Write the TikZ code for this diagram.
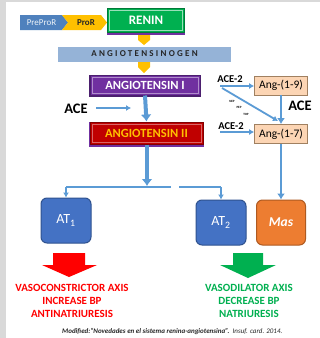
\documentclass[tikz,border=0pt]{standalone}
\usepackage{fontspec}
\setmainfont{Carlito}
\newfontfamily\spacedfont[LetterSpace=25]{Carlito}
\usetikzlibrary{arrows.meta}
\definecolor{greyside}{HTML}{D9D9D9}
\definecolor{arrowblue}{HTML}{5B9BD5}
\definecolor{prepro}{HTML}{4F81BD}
\definecolor{yel}{HTML}{FFC000}
\definecolor{reningreen}{HTML}{00B050}
\definecolor{renindark}{HTML}{007A38}
\definecolor{purp}{HTML}{7030A0}
\definecolor{purpdark}{HTML}{4B1F6E}
\definecolor{agenblue}{HTML}{95B3D7}
\definecolor{redbox}{HTML}{C00000}
\definecolor{reddark}{HTML}{800000}
\definecolor{peach}{HTML}{FCD5B4}
\definecolor{peachdark}{HTML}{A08060}
\definecolor{atblue}{HTML}{4472C4}
\definecolor{atdark}{HTML}{2F528F}
\definecolor{masor}{HTML}{ED7D31}
\definecolor{masdark}{HTML}{AE5A21}
\definecolor{brightred}{HTML}{FF0000}
\definecolor{axisgreen}{HTML}{00B050}
\begin{document}
\begin{tikzpicture}[x=1pt,y=-1pt,
  flow/.style={draw=arrowblue, line width=4pt, -{Latex[length=7pt,width=11pt]}},
  midflow/.style={draw=arrowblue, line width=2.5pt, -{Latex[length=6pt,width=8pt]}},
  slimflow/.style={draw=arrowblue, line width=1.8pt, -{Latex[length=5pt,width=6pt]}},
  branch/.style={draw=arrowblue, line width=1.5pt},
  brancharrow/.style={draw=arrowblue, line width=1.5pt, -{Latex[length=5pt,width=6pt]}},
  bevel/.style={inner sep=0pt, font=\bfseries\fontsize{12.5}{12.5}\selectfont},
  angbox/.style={draw=peachdark, fill=peach, line width=0.8pt, minimum width=53pt, minimum height=19pt, inner sep=0pt, font=\fontsize{11.5}{11.5}\selectfont},
  recbox/.style={rounded corners=6pt, line width=1pt, minimum width=50pt, minimum height=45pt, inner sep=0pt, text=white},
  label/.style={inner sep=0pt, font=\bfseries\fontsize{10.5}{10.5}\selectfont},
  bigace/.style={inner sep=0pt, font=\bfseries\fontsize{14.5}{14.5}\selectfont},
  tiny/.style={inner sep=0pt, font=\bfseries\fontsize{3.2}{3.2}\selectfont},
  axis/.style={inner sep=0pt, align=center, font=\bfseries\fontsize{11}{13}\selectfont}
]
\useasboundingbox (0,0) rectangle (320,338);
\fill[white] (0,0) rectangle (320,338);
\fill[greyside] (0,0) rectangle (6,338);
\fill[greyside] (0,0) rectangle (320,2);

% PreProR / ProR chevrons
\fill[prepro] (20,15) -- (62,15) -- (68,22.5) -- (62,30) -- (20,30) -- cycle;
\fill[yel] (62,15) -- (101,15) -- (107,22.5) -- (101,30) -- (62,30) -- (68,22.5) -- cycle;
\node[inner sep=0pt, text=white!90!prepro, font=\fontsize{9}{9}\selectfont] (preprolab) at (41.5,22.5) {PreProR};
\node[inner sep=0pt, text=black!85, font=\bfseries\fontsize{9}{9}\selectfont] (prolab) at (86,22.5) {ProR};

% RENIN
\fill[purp] (107,9) rectangle (185,35);
\node[bevel, draw=renindark, fill=reningreen, line width=1pt, minimum width=77pt, minimum height=24pt, text=white, font=\bfseries\fontsize{13}{13}\selectfont] (renin) at (146,20.5) {RENIN};
\draw[white!60!reningreen, line width=0.6pt] ([shift={(2.5pt,-2.5pt)}]renin.north west) rectangle ([shift={(-2.5pt,2.5pt)}]renin.south east);

% pointers
\fill[yel] (138,35) -- (150,35) -- (150,40) -- (144,45) -- (138,40) -- cycle;
\fill[yel] (138,62) -- (150,62) -- (150,67) -- (144,73) -- (138,67) -- cycle;

% ANGIOTENSINOGEN
\node[fill=agenblue, minimum width=173pt, minimum height=15pt, inner sep=0pt, font=\spacedfont\bfseries\fontsize{9}{9}\selectfont, text=black!85] (agen) at (144.5,54) {ANGIOTENSINOGEN};

% ANGIOTENSIN I
\fill[purpdark] (89,75) rectangle (201,97);
\node[bevel, draw=purpdark, fill=purp, line width=1pt, minimum width=110pt, minimum height=20pt, text=white] (ang1) at (145,85) {ANGIOTENSIN I};
\draw[white!45!purp, line width=0.6pt] ([shift={(2.5pt,-2.5pt)}]ang1.north west) rectangle ([shift={(-2.5pt,2.5pt)}]ang1.south east);

% ANGIOTENSIN II
\fill[purp] (89,122) rectangle (204,147);
\node[bevel, draw=reddark, fill=redbox, line width=1pt, minimum width=113pt, minimum height=22pt, text=yel] (ang2) at (146.5,133) {ANGIOTENSIN II};
\draw[white!40!redbox, line width=0.6pt] ([shift={(2.5pt,-2.5pt)}]ang2.north west) rectangle ([shift={(-2.5pt,2.5pt)}]ang2.south east);

% ACE left
\node[bigace] (aceleft) at (76,109) {ACE};
\coordinate (acel1) at (96,108);
\coordinate (acel2) at (131,108);
\draw[slimflow] (acel1) -- (acel2);
\draw[flow] (ang1.south) -- (ang2.north);

% Right branch
\node[angbox] (a19) at (281,85.5) {Ang-(1-9)};
\node[angbox] (a17) at (281,134) {Ang-(1-7)};
\node[label] (ace2a) at (230,79) {ACE-2};
\node[label] (ace2b) at (231,126) {ACE-2};
\node[bigace] (aceright) at (300,106) {ACE};
\coordinate (d1) at (220,86);
\coordinate (d2) at (222,88);
\coordinate (d3) at (278,121);
\coordinate (e1) at (220,132);
\draw[slimflow] (d1) -- (a19.west |- d1);
\draw[slimflow] (d2) -- (d3);
\draw[slimflow] (e1) -- (a17.west |- e1);
\draw[midflow] (a19.south) -- (a17.north);
\node[tiny] (nep) at (232,101) {NEP};
\node[tiny] (pep) at (239,107.5) {PEP};
\node[tiny] (top) at (246,114) {TOP};

% Receptors
\node[recbox, draw=atdark, fill=atblue] (at1) at (66,220.5) {\fontsize{14}{14}\selectfont AT\textsubscript{1}};
\node[recbox, draw=atdark, fill=atblue] (at2) at (221,222.5) {\fontsize{14}{14}\selectfont AT\textsubscript{2}};
\node[recbox, draw=masdark, fill=masor, minimum width=49pt] (mas) at (281,222.5) {\bfseries\itshape\fontsize{13.5}{13.5}\selectfont Mas};

\coordinate (j) at (147,187);
\coordinate (jl) at (66,187);
\coordinate (jg1) at (171,187);
\coordinate (jg2) at (179,187);
\coordinate (jr) at (221,187);
\draw[flow] (ang2.south -| j) -- ([yshift=1pt]j);
\draw[branch] (jl) -- (jg1);
\draw[branch] (jg2) -- (jr);
\draw[brancharrow] (jl) -- (at1.north);
\draw[brancharrow] (jr) -- (at2.north);
\draw[midflow] (a17.south) -- (mas.north);

% Block arrows
\fill[brightred] (53,253) -- (85,253) -- (85,265) -- (97,265) -- (69,277) -- (42,265) -- (53,265) -- cycle;
\fill[axisgreen] (233,253) -- (263,253) -- (263,265) -- (276,265) -- (248,278) -- (220,265) -- (233,265) -- cycle;

\node[axis, text=brightred] (redtext) at (72,301) {VASOCONSTRICTOR AXIS\\INCREASE BP\\ANTINATRIURESIS};
\node[axis, text=axisgreen] (greentext) at (249,301) {VASODILATOR AXIS\\DECREASE BP\\NATRIURESIS};

\node[inner sep=0pt, anchor=west, text=black!85, font=\fontsize{7}{7}\selectfont] (cite) at (62,332) {{\bfseries\itshape Modified:“Novedades en el sistema renina-angiotensina”.}\ \ {\itshape Insuf. card. 2014.}};
\end{tikzpicture}
\end{document}
